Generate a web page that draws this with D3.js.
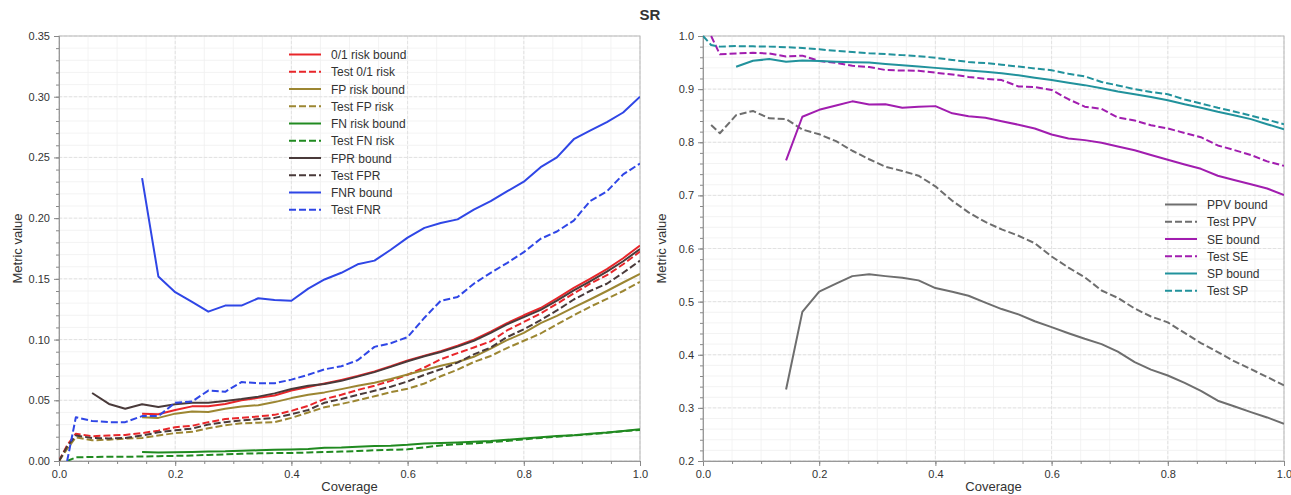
<!DOCTYPE html>
<html>
<head>
<meta charset="utf-8">
<script src="https://cdn.jsdelivr.net/npm/d3@7"></script>
<style>
	body { margin: 0; background: #fff; }
	svg text { font-family: "Liberation Sans", Arial, sans-serif; fill: #333; }
</style>
</head>
<body>
<div id="chart"></div>
<script>
'use strict';

// coverage values shared by every series (null = no point)
var coverage = [0, 0.014, 0.029, 0.057, 0.086, 0.114, 0.143, 0.171, 0.2, 0.229, 0.257, 0.286, 0.314, 0.343,
	0.371, 0.4, 0.429, 0.457, 0.486, 0.514, 0.543, 0.571, 0.6, 0.629, 0.657, 0.686, 0.714, 0.743, 0.771,
	0.8, 0.829, 0.857, 0.886, 0.914, 0.943, 0.971, 1.0];

// left panel: risks
var riskBound = [null, null, null, null, null, null, 0.039, 0.0385, 0.042, 0.045, 0.045, 0.047, 0.050, 0.052,
	0.054, 0.058, 0.061, 0.0638, 0.0668, 0.070, 0.0738, 0.078, 0.0828, 0.0868, 0.0905, 0.095, 0.100, 0.1065,
	0.1135, 0.120, 0.126, 0.134, 0.1425, 0.150, 0.158, 0.167, 0.1775];
var testRisk = [0, 0.013, 0.0225, 0.0204, 0.021, 0.0215, 0.023, 0.025, 0.0278, 0.029, 0.032, 0.0345, 0.0355,
	0.0367, 0.038, 0.0413, 0.0455, 0.051, 0.0545, 0.0585, 0.062, 0.066, 0.071, 0.077, 0.0838, 0.0888, 0.0935,
	0.0985, 0.1075, 0.1145, 0.1215, 0.1295, 0.138, 0.146, 0.153, 0.162, 0.1725];
var fpBound = [null, null, null, null, null, null, 0.036, 0.0355, 0.039, 0.0407, 0.0404, 0.043, 0.0448, 0.046,
	0.0485, 0.0518, 0.0545, 0.0565, 0.0592, 0.062, 0.0645, 0.0676, 0.0712, 0.075, 0.0785, 0.0815, 0.0858,
	0.0925, 0.0995, 0.1055, 0.1135, 0.1195, 0.1265, 0.133, 0.140, 0.147, 0.154];
var testFp = [0, 0.010, 0.0195, 0.017, 0.0176, 0.0184, 0.019, 0.021, 0.023, 0.024, 0.027, 0.0295, 0.031, 0.0315,
	0.032, 0.0355, 0.040, 0.0443, 0.047, 0.050, 0.0533, 0.0567, 0.0595, 0.0638, 0.0698, 0.0752, 0.0815, 0.0865,
	0.093, 0.099, 0.105, 0.1125, 0.120, 0.127, 0.1335, 0.140, 0.1475];
var fnBound = [null, null, null, null, null, null, 0.0074, 0.007, 0.0072, 0.0075, 0.0078, 0.008, 0.0085, 0.0088,
	0.0092, 0.0094, 0.0098, 0.011, 0.0112, 0.0118, 0.0123, 0.0126, 0.0133, 0.0145, 0.0148, 0.0152, 0.0158,
	0.0165, 0.0175, 0.0185, 0.0195, 0.0205, 0.0212, 0.0225, 0.0235, 0.0248, 0.0262];
var testFn = [null, 0, 0.003, 0.0033, 0.0035, 0.0035, 0.0037, 0.004, 0.0042, 0.0045, 0.005, 0.0055, 0.006, 0.0063,
	0.0065, 0.0066, 0.007, 0.0074, 0.0078, 0.0082, 0.0088, 0.0092, 0.0096, 0.0112, 0.0128, 0.0138, 0.0145,
	0.0155, 0.0165, 0.0178, 0.019, 0.020, 0.0212, 0.022, 0.0232, 0.0245, 0.0255];
var fprBound = [null, null, null, 0.056, 0.047, 0.043, 0.0467, 0.0445, 0.0467, 0.048, 0.048, 0.0495, 0.051, 0.053,
	0.0557, 0.0593, 0.062, 0.0634, 0.066, 0.0695, 0.0732, 0.0775, 0.0822, 0.0862, 0.0898, 0.0942, 0.099,
	0.1055, 0.1125, 0.1185, 0.1245, 0.132, 0.1405, 0.148, 0.156, 0.1645, 0.1745];
var testFpr = [0, 0.012, 0.021, 0.019, 0.0186, 0.019, 0.021, 0.0236, 0.0253, 0.0267, 0.030, 0.032, 0.0335, 0.0345,
	0.0355, 0.0385, 0.042, 0.048, 0.051, 0.0545, 0.0578, 0.0612, 0.0655, 0.071, 0.0755, 0.081, 0.0878, 0.0935,
	0.102, 0.1085, 0.116, 0.124, 0.133, 0.140, 0.146, 0.155, 0.165];
var fnrBound = [null, null, null, null, null, null, 0.233, 0.152, 0.139, 0.131, 0.123, 0.128, 0.128, 0.134, 0.1325,
	0.132, 0.142, 0.1495, 0.155, 0.162, 0.165, 0.174, 0.184, 0.192, 0.196, 0.199, 0.207, 0.214, 0.222, 0.230,
	0.242, 0.250, 0.265, 0.272, 0.279, 0.287, 0.300];
var testFnr = [null, 0, 0.036, 0.033, 0.032, 0.032, 0.037, 0.037, 0.048, 0.049, 0.058, 0.057, 0.065, 0.064, 0.064,
	0.067, 0.071, 0.0755, 0.078, 0.083, 0.094, 0.097, 0.102, 0.118, 0.132, 0.135, 0.146, 0.155, 0.163, 0.172,
	0.183, 0.189, 0.198, 0.214, 0.222, 0.236, 0.245];

// right panel: rates
var ppvBound = [null, null, null, null, null, null, 0.3345, 0.4807, 0.519, 0.534, 0.548, 0.5515, 0.548, 0.545,
	0.540, 0.5255, 0.5185, 0.511, 0.498, 0.486, 0.476, 0.463, 0.452, 0.4405, 0.430, 0.420, 0.406, 0.386, 0.372,
	0.361, 0.347, 0.332, 0.3135, 0.303, 0.292, 0.282, 0.270];
var testPpv = [null, 0.8325, 0.817, 0.851, 0.859, 0.845, 0.8436, 0.824, 0.815, 0.802, 0.784, 0.768, 0.754, 0.746,
	0.737, 0.717, 0.690, 0.668, 0.650, 0.636, 0.624, 0.610, 0.585, 0.564, 0.546, 0.521, 0.507, 0.487, 0.472,
	0.461, 0.441, 0.422, 0.405, 0.388, 0.373, 0.358, 0.3425];
var seBound = [null, null, null, null, null, null, 0.766, 0.848, 0.861, 0.869, 0.877, 0.871, 0.8715, 0.865, 0.867,
	0.868, 0.8545, 0.849, 0.846, 0.8395, 0.833, 0.826, 0.8145, 0.807, 0.804, 0.799, 0.792, 0.785, 0.776, 0.767,
	0.758, 0.750, 0.737, 0.729, 0.721, 0.713, 0.7005];
var testSe = [null, 1.0, 0.9655, 0.967, 0.9685, 0.967, 0.9615, 0.963, 0.953, 0.9495, 0.944, 0.9415, 0.936, 0.935,
	0.9345, 0.931, 0.9275, 0.923, 0.9195, 0.917, 0.905, 0.904, 0.8985, 0.881, 0.867, 0.863, 0.8465, 0.841, 0.832,
	0.826, 0.8175, 0.8095, 0.794, 0.7855, 0.776, 0.764, 0.7555];
var spBound = [null, null, null, 0.942, 0.9535, 0.9565, 0.9515, 0.954, 0.953, 0.9515, 0.9505, 0.950, 0.9475, 0.945,
	0.9425, 0.940, 0.9375, 0.935, 0.9325, 0.930, 0.926, 0.9215, 0.917, 0.912, 0.9075, 0.9015, 0.8955, 0.8905,
	0.885, 0.879, 0.8715, 0.865, 0.8575, 0.851, 0.8435, 0.834, 0.8245];
var testSp = [1.0, 0.983, 0.980, 0.981, 0.9805, 0.980, 0.979, 0.9775, 0.975, 0.972, 0.970, 0.9675, 0.966, 0.964,
	0.962, 0.959, 0.955, 0.951, 0.949, 0.946, 0.9425, 0.939, 0.9355, 0.929, 0.924, 0.9135, 0.907, 0.900, 0.8945,
	0.8905, 0.8805, 0.873, 0.865, 0.858, 0.850, 0.8425, 0.834];

var xTicks = [0, 0.2, 0.4, 0.6, 0.8, 1.0];
var leftYTicks = [0, 0.05, 0.1, 0.15, 0.2, 0.25, 0.3, 0.35];
var rightYTicks = [0.2, 0.3, 0.4, 0.5, 0.6, 0.7, 0.8, 0.9, 1.0];

var leftSeries = [
	{ name: '0/1 risk bound', values: riskBound, color: '#e8262a', dashed: false },
	{ name: 'Test 0/1 risk', values: testRisk, color: '#e8262a', dashed: true },
	{ name: 'FP risk bound', values: fpBound, color: '#9c8632', dashed: false },
	{ name: 'Test FP risk', values: testFp, color: '#9c8632', dashed: true },
	{ name: 'FN risk bound', values: fnBound, color: '#208a20', dashed: false },
	{ name: 'Test FN risk', values: testFn, color: '#208a20', dashed: true },
	{ name: 'FPR bound', values: fprBound, color: '#493a3a', dashed: false },
	{ name: 'Test FPR', values: testFpr, color: '#493a3a', dashed: true },
	{ name: 'FNR bound', values: fnrBound, color: '#2f46e6', dashed: false },
	{ name: 'Test FNR', values: testFnr, color: '#2f46e6', dashed: true }
];
var rightSeries = [
	{ name: 'PPV bound', values: ppvBound, color: '#6e6e6e', dashed: false },
	{ name: 'Test PPV', values: testPpv, color: '#6e6e6e', dashed: true },
	{ name: 'SE bound', values: seBound, color: '#a11daf', dashed: false },
	{ name: 'Test SE', values: testSe, color: '#a11daf', dashed: true },
	{ name: 'SP bound', values: spBound, color: '#21929c', dashed: false },
	{ name: 'Test SP', values: testSp, color: '#21929c', dashed: true }
];

var WIDTH = 1291,
	HEIGHT = 495;

var svg = d3.select('#chart').append('svg')
	.attr('width', WIDTH)
	.attr('height', HEIGHT);

svg.append('text')
	.attr('x', 650)
	.attr('y', 20)
	.attr('text-anchor', 'middle')
	.style('font-size', '15px')
	.style('font-weight', 'bold')
	.text('SR');

drawPanel({
	left: 59, right: 640, top: 36, bottom: 461,
	yDomain: [0, 0.35], yTicks: leftYTicks, yMinorStep: 0.01, yFormat: d3.format('.2f'),
	series: leftSeries, legendX: 289, legendY: 54.5
});
drawPanel({
	left: 703, right: 1284, top: 36, bottom: 461,
	yDomain: [0.2, 1.0], yTicks: rightYTicks, yMinorStep: 0.02, yFormat: d3.format('.1f'),
	series: rightSeries, legendX: 1165, legendY: 204.5
});

function drawPanel(p) {
	var x = d3.scaleLinear().domain([0, 1]).range([p.left, p.right]);
	var y = d3.scaleLinear().domain(p.yDomain).range([p.bottom, p.top]);

	var xMinor = d3.range(0, 1.0001, 0.05);
	var yMinor = d3.range(p.yDomain[0], p.yDomain[1] + 1e-6, p.yMinorStep);

	var g = svg.append('g');

	// minor grid
	g.selectAll('.xminor').data(xMinor).enter().append('line')
		.attr('x1', function(d) { return x(d); })
		.attr('x2', function(d) { return x(d); })
		.attr('y1', p.top).attr('y2', p.bottom)
		.attr('stroke', '#f0f0f0').attr('stroke-width', 0.8);
	g.selectAll('.yminor').data(yMinor).enter().append('line')
		.attr('x1', p.left).attr('x2', p.right)
		.attr('y1', function(d) { return y(d); })
		.attr('y2', function(d) { return y(d); })
		.attr('stroke', '#f0f0f0').attr('stroke-width', 0.8);

	// major grid, dashed
	g.selectAll('.xmajor').data(xTicks).enter().append('line')
		.attr('x1', function(d) { return x(d); })
		.attr('x2', function(d) { return x(d); })
		.attr('y1', p.top).attr('y2', p.bottom)
		.attr('stroke', '#dddddd').attr('stroke-width', 0.8)
		.attr('stroke-dasharray', '3,2');
	g.selectAll('.ymajor').data(p.yTicks).enter().append('line')
		.attr('x1', p.left).attr('x2', p.right)
		.attr('y1', function(d) { return y(d); })
		.attr('y2', function(d) { return y(d); })
		.attr('stroke', '#dddddd').attr('stroke-width', 0.8)
		.attr('stroke-dasharray', '3,2');

	// frame
	g.append('rect')
		.attr('x', p.left).attr('y', p.top)
		.attr('width', p.right - p.left).attr('height', p.bottom - p.top)
		.attr('fill', 'none').attr('stroke', '#bbbbbb').attr('stroke-width', 1);

	// axes
	g.append('g')
		.attr('transform', 'translate(0,' + p.bottom + ')')
		.call(d3.axisBottom(x).tickValues(xTicks).tickFormat(d3.format('.1f')).tickSize(5).tickPadding(4));
	g.append('g')
		.attr('transform', 'translate(0,' + p.bottom + ')')
		.call(d3.axisBottom(x).tickValues(xMinor).tickFormat('').tickSize(3));
	g.append('g')
		.attr('transform', 'translate(' + p.left + ',0)')
		.call(d3.axisLeft(y).tickValues(p.yTicks).tickFormat(p.yFormat).tickSize(5).tickPadding(4));
	g.append('g')
		.attr('transform', 'translate(' + p.left + ',0)')
		.call(d3.axisLeft(y).tickValues(yMinor).tickFormat('').tickSize(3));

	g.selectAll('.domain').attr('stroke', '#999999');
	g.selectAll('.tick line').attr('stroke', '#888888');
	g.selectAll('.tick text').style('font-size', '11px').attr('fill', '#333');

	// axis labels
	g.append('text')
		.attr('x', (p.left + p.right) / 2)
		.attr('y', 491)
		.attr('text-anchor', 'middle')
		.style('font-size', '13px')
		.text('Coverage');
	g.append('text')
		.attr('transform', 'translate(' + (p.left - 37) + ',' + ((p.top + p.bottom) / 2) + ') rotate(-90)')
		.attr('text-anchor', 'middle')
		.style('font-size', '13px')
		.text('Metric value');

	// lines
	var clipId = 'clip' + p.left;
	svg.append('clipPath').attr('id', clipId)
		.append('rect')
		.attr('x', p.left).attr('y', p.top - 1)
		.attr('width', p.right - p.left).attr('height', p.bottom - p.top + 1);

	var line = d3.line()
		.defined(function(d) { return d[1] !== null; })
		.x(function(d) { return x(d[0]); })
		.y(function(d) { return y(d[1]); });

	g.append('g').attr('clip-path', 'url(#' + clipId + ')')
		.selectAll('path').data(p.series).enter().append('path')
		.attr('d', function(s) { return line(coverage.map(function(c, i) { return [c, s.values[i]]; })); })
		.attr('fill', 'none')
		.attr('stroke', function(s) { return s.color; })
		.attr('stroke-width', 2)
		.attr('stroke-linejoin', 'round')
		.attr('stroke-dasharray', function(s) { return s.dashed ? '7,3' : null; });

	// legend
	var leg = g.selectAll('.legend').data(p.series).enter().append('g')
		.attr('transform', function(s, i) { return 'translate(' + p.legendX + ',' + (p.legendY + i * 17.25) + ')'; });
	leg.append('line')
		.attr('x1', 0).attr('x2', 32)
		.attr('stroke', function(s) { return s.color; })
		.attr('stroke-width', 2)
		.attr('stroke-dasharray', function(s) { return s.dashed ? '7,3' : null; });
	leg.append('text')
		.attr('x', 42).attr('y', 4.5)
		.style('font-size', '12px')
		.text(function(s) { return s.name; });
}
</script>
</body>
</html>
